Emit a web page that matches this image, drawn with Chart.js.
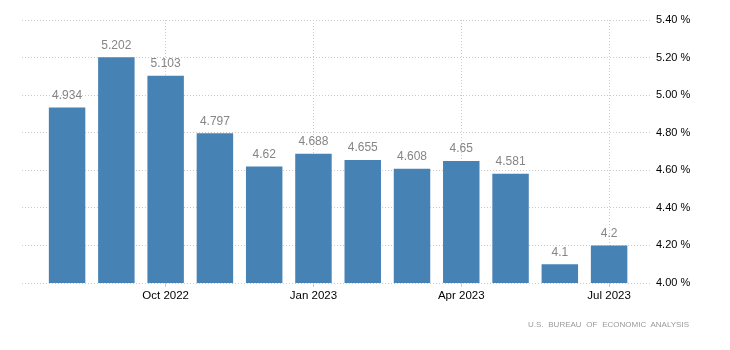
<!DOCTYPE html>
<html>
<head>
<meta charset="utf-8">
<script src="https://cdn.jsdelivr.net/npm/chart.js@4"></script>
<style>
  body { margin: 0; background: #fff; }
  #wrap { position: relative; width: 730px; height: 350px; }
  #src {
    position: absolute; left: 528px; top: 320px;
    font: 8px "Liberation Sans", Arial, sans-serif; color: #999;
    letter-spacing: 0px; word-spacing: 2.5px; white-space: nowrap;
  }
</style>
</head>
<body>
<div id="wrap">
  <canvas id="myChart" width="730" height="350"></canvas>
  <div id="src">U.S. BUREAU OF ECONOMIC ANALYSIS</div>
</div>
<script>
// monthly values, Aug 2022 .. Jul 2023
var months = ['Aug 2022', 'Sep 2022', 'Oct 2022', 'Nov 2022', 'Dec 2022', 'Jan 2023',
              'Feb 2023', 'Mar 2023', 'Apr 2023', 'May 2023', 'Jun 2023', 'Jul 2023'];
var values = [4.934, 5.202, 5.103, 4.797, 4.62, 4.688, 4.655, 4.608, 4.65, 4.581, 4.1, 4.2];
var valueText = ['4.934', '5.202', '5.103', '4.797', '4.62', '4.688', '4.655', '4.608', '4.65', '4.581', '4.1', '4.2'];
var tickIdx = [2, 5, 8, 11];

const points = values.map((v, i) => ({ x: i, y: v }));

// draw the value above each bar
const valueLabels = {
    id: 'valueLabels',
    afterDatasetsDraw(chart) {
        const ctx = chart.ctx;
        const meta = chart.getDatasetMeta(0);
        ctx.save();
        ctx.font = '12px "Liberation Sans", Arial, sans-serif';
        ctx.fillStyle = '#858585';
        ctx.textAlign = 'center';
        ctx.textBaseline = 'bottom';
        meta.data.forEach((bar, i) => {
            ctx.fillText(valueText[i], bar.x, bar.y - 6);
        });
        ctx.restore();
    }
};

const ctx = document.getElementById('myChart').getContext('2d');
var myChart = new Chart(ctx, {
    type: 'bar',
    data: {
        datasets: [{
            data: points,
            backgroundColor: '#4682b4',
            categoryPercentage: 1,
            barPercentage: 0.74
        }]
    },
    options: {
        responsive: false,
        animation: false,
        layout: { padding: { left: 22, top: 20, right: 0, bottom: 0 } },
        plugins: { legend: { display: false }, tooltip: { enabled: false } },
        scales: {
            x: {
                type: 'linear',
                offset: false,
                min: -0.915,
                max: 11.83,
                afterBuildTicks: (scale) => {
                    scale.ticks = tickIdx.map(v => ({ value: v }));
                },
                afterFit: (scale) => { scale.height = 67; },
                border: { display: false, dash: [1, 2] },
                grid: {
                    offset: false,
                    color: '#cccccc',
                    tickLength: 4,
                    tickColor: '#cccccc',
                    tickBorderDash: []
                },
                ticks: {
                    autoSkip: false,
                    maxRotation: 0,
                    padding: 2,
                    color: '#000',
                    font: { family: '"Liberation Sans", Arial, sans-serif', size: 11.5 },
                    callback: (v) => months[v]
                }
            },
            y: {
                position: 'right',
                min: 4.0,
                max: 5.4,
                afterFit: (scale) => { scale.width = 80; },
                border: { display: false, dash: [1, 2] },
                grid: {
                    color: '#cccccc',
                    drawTicks: false
                },
                ticks: {
                    stepSize: 0.2,
                    padding: 6,
                    color: '#000',
                    font: { family: '"Liberation Sans", Arial, sans-serif', size: 11 },
                    callback: (v) => v.toFixed(2) + ' %'
                }
            }
        }
    },
    plugins: [valueLabels]
});
</script>
</body>
</html>
